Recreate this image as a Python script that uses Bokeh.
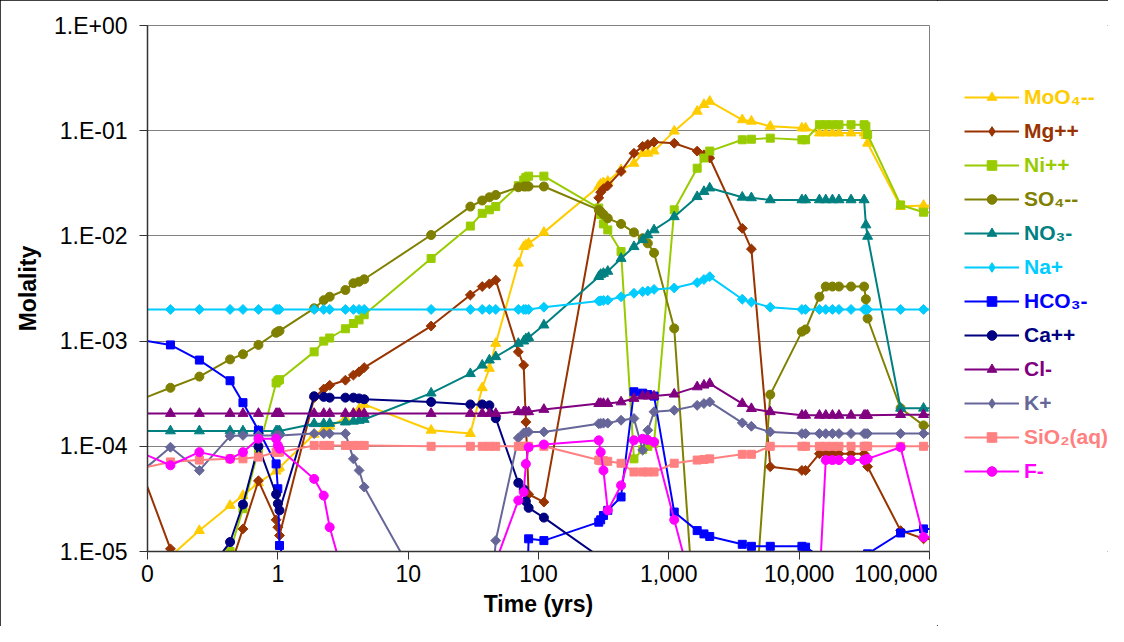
from bokeh.plotting import figure
from bokeh.models import Range1d, FixedTicker, Legend, LegendItem, ColumnDataSource
from bokeh.layouts import row
from bokeh.embed import file_html
from bokeh.resources import INLINE
import math

# ---------------- data ----------------
TIME = [0.08, 0.15, 0.25, 0.43, 0.54, 0.71, 0.97, 1.0, 1.03,
        1.9, 2.25, 2.5, 3.3, 3.8, 4.2, 4.6,
        15, 30, 37, 42, 47, 70, 77, 80, 84, 110,
        290, 300, 315, 340, 430, 540, 630, 690, 770, 1100,
        1650, 1860, 2060, 3660, 4300, 6000,
        10500, 11200, 14300, 16000, 18000, 20200, 25000, 31500, 32500, 33500,
        60000, 90000, 120000]

MOO4 = [4e-6, 9e-6, 1.58e-5, 2.74e-5, 3.4e-5, 4.5e-5, 5.8e-5, 6.1e-5, 6.3e-5,
        1.3e-4, 1.45e-4, 1.55e-4, 1.85e-4, 2.05e-4, 2.25e-4, 2.5e-4,
        1.42e-4, 1.32e-4, 3.6e-4, 5.5e-4, 9.5e-4, 5.5e-3, 7.9e-3, 8.2e-3, 8.5e-3, 1.08e-2,
        2.95e-2, 3.1e-2, 3.2e-2, 3.3e-2, 4.25e-2, 4.9e-2, 6.1e-2, 6.1e-2, 6.4e-2, 9.9e-2,
        0.153, 0.177, 0.19, 0.127, 0.123, 0.11,
        0.106, 0.106, 0.095, 0.095, 0.095, 0.095, 0.095, 0.095, 0.09, 0.076,
        0.019, 0.0195, 0.019]

MG = [8.6e-5, 1.06e-5, 5e-6, 7e-6, 1.64e-5, 4.7e-5, 2.0e-5, 1.7e-5, 1.42e-5,
      2.9e-4, 3.5e-4, 3.8e-4, 4.25e-4, 4.75e-4, 5.1e-4, 5.6e-4,
      1.39e-3, 2.74e-3, 3.3e-3, 3.5e-3, 3.8e-3, 7.9e-4, 5.9e-4, 1.7e-4, 3.5e-5, 2.95e-5,
      2.3e-2, 2.6e-2, 2.8e-2, 3.0e-2, 4.1e-2, 6.1e-2, 7.1e-2, 7.4e-2, 7.8e-2, 7.6e-2,
      6.4e-2, 5.9e-2, 5.5e-2, 1.18e-2, 7.5e-3, 6.4e-5,
      5.9e-5, 5.9e-5, 8.5e-5, 8.5e-5, 8.5e-5, 8.5e-5, 8.5e-5, 8.5e-5, 7.5e-5, 6.4e-5,
      1.58e-5, 1.32e-5, 1.3e-5]

NI = [1e-6, 2e-6, 5e-6, 1.0e-5, 2.55e-5, 9.2e-5, 4.0e-4, 4.2e-4, 4.3e-4,
      7.9e-4, 1.0e-3, 1.07e-3, 1.31e-3, 1.47e-3, 1.59e-3, 1.78e-3,
      6.1e-3, 1.24e-2, 1.64e-2, 1.77e-2, 1.9e-2, 3.0e-2, 3.4e-2, 3.6e-2, 3.7e-2, 3.7e-2,
      1.84e-2, 1.6e-2, 1.3e-2, 1.14e-2, 7.1e-3, 7.6e-5, 9.3e-5, 1.0e-4, 1.07e-4, 1.77e-2,
      4.4e-2, 5.5e-2, 6.4e-2, 8.2e-2, 8.3e-2, 8.5e-2,
      8.2e-2, 8.2e-2, 0.114, 0.114, 0.114, 0.114, 0.114, 0.114, 0.11, 0.092,
      0.0197, 0.0168, 0.0165]

SO4 = [2.65e-4, 3.6e-4, 4.6e-4, 6.7e-4, 7.5e-4, 9.2e-4, 1.2e-3, 1.23e-3, 1.25e-3,
       2.05e-3, 2.45e-3, 2.64e-3, 3.06e-3, 3.55e-3, 3.67e-3, 3.87e-3,
       1.02e-2, 1.9e-2, 2.17e-2, 2.33e-2, 2.45e-2, 2.9e-2, 2.95e-2, 2.95e-2, 2.95e-2, 2.95e-2,
       1.77e-2, 1.7e-2, 1.6e-2, 1.47e-2, 1.3e-2, 1.08e-2, 9.5e-3, 8.5e-3, 6.9e-3, 1.32e-3,
       1e-6, 1e-6, 1e-6, 1e-6, 1e-6, 3.1e-4,
       1.23e-3, 1.29e-3, 2.64e-3, 3.3e-3, 3.3e-3, 3.3e-3, 3.3e-3, 3.3e-3, 2.5e-3, 1.64e-3,
       2.3e-4, 1.58e-4, 1.55e-4]

NO3 = [1.4e-4, 1.4e-4, 1.4e-4, 1.4e-4, 1.4e-4, 1.4e-4, 1.4e-4, 1.4e-4, 1.4e-4,
       1.64e-4, 1.64e-4, 1.65e-4, 1.7e-4, 1.73e-4, 1.76e-4, 1.8e-4,
       3.2e-4, 4.9e-4, 5.9e-4, 6.6e-4, 7.1e-4, 9.5e-4, 1.0e-3, 1.05e-3, 1.08e-3, 1.42e-3,
       4.1e-3, 4.3e-3, 4.4e-3, 4.6e-3, 6.1e-3, 7.9e-3, 9.2e-3, 1.02e-2, 1.14e-2, 1.52e-2,
       2.36e-2, 2.64e-2, 2.85e-2, 2.33e-2, 2.3e-2, 2.2e-2,
       2.2e-2, 2.2e-2, 2.2e-2, 2.2e-2, 2.2e-2, 2.2e-2, 2.2e-2, 2.2e-2, 1.27e-2, 9.9e-3,
       2.3e-4, 2.3e-4, 2.3e-4]

NA = [2e-3, 2e-3, 2e-3, 2e-3, 2e-3, 2e-3, 2e-3, 2e-3, 2e-3,
      2e-3, 2e-3, 2e-3, 2e-3, 2e-3, 2e-3, 2e-3,
      2e-3, 2e-3, 2e-3, 2e-3, 2e-3, 2e-3, 2e-3, 2e-3, 2e-3, 2.1e-3,
      2.4e-3, 2.42e-3, 2.44e-3, 2.45e-3, 2.64e-3, 2.85e-3, 2.95e-3, 3.0e-3, 3.1e-3, 3.2e-3,
      3.6e-3, 3.85e-3, 4.1e-3, 2.5e-3, 2.35e-3, 2.1e-3,
      2e-3, 2e-3, 2e-3, 2e-3, 2e-3, 2e-3, 2e-3, 2e-3, 2e-3, 2e-3,
      2e-3, 2e-3, 2e-3]

HCO3 = [1.05e-3, 9.2e-4, 6.6e-4, 4.2e-4, 2.6e-4, 1.42e-4, 6.8e-5, 3.95e-5, 1.14e-5,
        1e-6, 1e-6, 1e-6, 1e-6, 1e-6, 1e-6, 1e-6,
        1e-6, 1e-6, 1e-6, 1e-6, 1e-6, 1e-6, 1e-6, 2e-6, 1.32e-5, 1.27e-5,
        1.9e-5, 2.0e-5, 2.2e-5, 2.46e-5, 3.3e-5, 3.3e-4, 3.2e-4, 3.1e-4, 3.0e-4, 2.37e-5,
        1.58e-5, 1.47e-5, 1.39e-5, 1.17e-5, 1.12e-5, 1.12e-5,
        1.12e-5, 1.1e-5, 9e-6, 9e-6, 9e-6, 9e-6, 9e-6, 9e-6, 9e-6, 9.5e-6,
        1.5e-5, 1.64e-5, 1.64e-5]

CA = [1e-6, 1e-6, 5e-6, 1.23e-5, 2.8e-5, 1.0e-4, 3.5e-5, 2.85e-5, 2.46e-5,
      2.99e-4, 2.95e-4, 2.9e-4, 2.9e-4, 2.9e-4, 2.85e-4, 2.8e-4,
      2.64e-4, 2.5e-4, 2.5e-4, 2.45e-4, 1.85e-4, 4.5e-5, 3.9e-5, 3.0e-5, 2.6e-5, 2.1e-5,
      9e-6, 8.5e-6, 8e-6, 7e-6, 4e-6, 1e-6, 1e-6, 1e-6, 1e-6, 1e-6,
      1e-6, 1e-6, 1e-6, 1e-6, 1e-6, 1e-6,
      1e-6, 1e-6, 1e-6, 1e-6, 1e-6, 1e-6, 1e-6, 1e-6, 1e-6, 1e-6,
      1e-6, 1e-6, 1e-6]

CL = [2.05e-4, 2.05e-4, 2.05e-4, 2.05e-4, 2.05e-4, 2.05e-4, 2.05e-4, 2.05e-4, 2.05e-4,
      2.05e-4, 2.05e-4, 2.05e-4, 2.05e-4, 2.05e-4, 2.05e-4, 2.05e-4,
      2.05e-4, 2.05e-4, 2.05e-4, 2.05e-4, 2.05e-4, 2.13e-4, 2.13e-4, 2.13e-4, 2.13e-4, 2.24e-4,
      2.55e-4, 2.55e-4, 2.55e-4, 2.55e-4, 2.64e-4, 2.85e-4, 3.0e-4, 3.0e-4, 3.0e-4, 3.13e-4,
      3.67e-4, 3.81e-4, 3.95e-4, 2.55e-4, 2.28e-4, 2.13e-4,
      1.97e-4, 1.97e-4, 1.97e-4, 1.97e-4, 1.97e-4, 1.97e-4, 1.97e-4, 1.97e-4, 1.97e-4, 1.97e-4,
      2.0e-4, 2.0e-4, 2.0e-4]

K = [5.1e-5, 9.8e-5, 5.9e-5, 1.25e-4, 1.27e-4, 1.27e-4, 1.27e-4, 1.27e-4, 1.27e-4,
     1.32e-4, 1.32e-4, 1.32e-4, 1.32e-4, 7.6e-5, 5.9e-5, 4.1e-5,
     3e-6, 1e-6, 1e-6, 2e-6, 1.27e-5, 1.2e-4, 1.34e-4, 1.36e-4, 1.37e-4, 1.37e-4,
     1.64e-4, 1.65e-4, 1.66e-4, 1.66e-4, 1.77e-4, 1.84e-4, 9.2e-5, 1.42e-4, 2.13e-4, 2.2e-4,
     2.45e-4, 2.55e-4, 2.64e-4, 1.67e-4, 1.55e-4, 1.37e-4,
     1.32e-4, 1.32e-4, 1.32e-4, 1.32e-4, 1.32e-4, 1.32e-4, 1.32e-4, 1.32e-4, 1.32e-4, 1.32e-4,
     1.32e-4, 1.32e-4, 1.32e-4]

SIO2 = [6.0e-5, 7.1e-5, 7.4e-5, 7.6e-5, 7.6e-5, 7.9e-5, 8.8e-5, 8.8e-5, 8.8e-5,
        1.02e-4, 1.02e-4, 1.02e-4, 1.02e-4, 1.02e-4, 1.02e-4, 1.02e-4,
        1.0e-4, 1.0e-4, 1.0e-4, 1.0e-4, 1.0e-4, 1.0e-4, 1.0e-4, 1.0e-4, 1.0e-4, 1.0e-4,
        7.4e-5, 7.3e-5, 7.3e-5, 7.2e-5, 6.9e-5, 5.7e-5, 5.7e-5, 5.7e-5, 5.7e-5, 6.9e-5,
        7.4e-5, 7.5e-5, 7.6e-5, 8.4e-5, 8.4e-5, 1.0e-4,
        1.0e-4, 1.0e-4, 1.0e-4, 1.0e-4, 1.0e-4, 1.0e-4, 1.0e-4, 1.0e-4, 1.0e-4, 1.0e-4,
        1.0e-4, 1.0e-4, 1.0e-4]

F = [9.2e-5, 6.6e-5, 8.8e-5, 7.6e-5, 8.8e-5, 1.18e-4, 1.18e-4, 1.02e-4, 9.5e-5,
     4.9e-5, 3.4e-5, 1.7e-5, 5e-6, 1e-6, 1e-6, 1e-6,
     1e-6, 1e-6, 1e-6, 1e-6, 8e-6, 3.06e-5, 3.67e-5, 6.8e-5, 9.8e-5, 1.04e-4,
     1.14e-4, 8.8e-5, 5.9e-5, 2.46e-5, 4.25e-5, 1.14e-4, 1.18e-4, 1.15e-4, 1.1e-4, 2.0e-5,
     3e-6, 1e-6, 1e-6, 1e-6, 1e-6, 1e-6,
     1e-6, 1e-6, 5e-6, 7.4e-5, 7.4e-5, 7.4e-5, 7.4e-5, 7.4e-5, 7.5e-5, 7.6e-5,
     9.8e-5, 1.37e-5, 1.37e-5]

LABELS = ["MoO\u2084--", "Mg++", "Ni++", "SO\u2084--", "NO\u2083-", "Na+",
          "HCO\u2083-", "Ca++", "Cl-", "K+", "SiO\u2082(aq)", "F-"]
SERIES = [MOO4, MG, NI, SO4, NO3, NA, HCO3, CA, CL, K, SIO2, F]
COLORS = ["#FFCC00", "#993300", "#99CC00", "#808000", "#008080", "#00CCFF",
          "#0000FF", "#000080", "#800080", "#666699", "#FF8080", "#FF00FF"]
MARKERS = ["triangle", "diamond", "square", "circle", "triangle", "diamond",
           "square", "circle", "triangle", "diamond", "square", "circle"]

X_TICKS = [0.1, 1, 10, 100, 1000, 10000, 100000]
X_LABELS = ["0", "1", "10", "100", "1,000", "10,000", "100,000"]
Y_TICKS = [1e-5, 1e-4, 1e-3, 1e-2, 1e-1, 1]
Y_LABELS = ["1.E-05", "1.E-04", "1.E-03", "1.E-02", "1.E-01", "1.E+00"]

FONT = "Liberation Sans"
TOTAL_W, TOTAL_H = 1108, 626
FRAME_L, FRAME_T, FRAME_R, FRAME_B = 147, 25, 929, 551
MAIN_W = 937

p = figure(width=MAIN_W, height=TOTAL_H, x_axis_type="log", y_axis_type="log",
           x_range=Range1d(0.1, 1e5), y_range=Range1d(1e-5, 1),
           output_backend="svg", toolbar_location=None,
           min_border_left=FRAME_L, min_border_right=MAIN_W - FRAME_R,
           min_border_top=FRAME_T, min_border_bottom=TOTAL_H - FRAME_B)

p.background_fill_color = "white"
p.border_fill_color = "white"
p.outline_line_color = "#808080"
p.outline_line_width = 1

p.xgrid.visible = False
p.ygrid.ticker = FixedTicker(ticks=Y_TICKS)
p.ygrid.grid_line_color = "#808080"
p.ygrid.grid_line_width = 1

for ax, ticks, labels in ((p.xaxis[0], X_TICKS, X_LABELS), (p.yaxis[0], Y_TICKS, Y_LABELS)):
    ax.ticker = FixedTicker(ticks=ticks)
    ax.major_label_overrides = {t: l for t, l in zip(ticks, labels)}
    ax.major_label_text_font = FONT
    ax.major_label_text_font_size = "23px"
    ax.major_label_text_color = "black"
    ax.axis_label_text_font = FONT
    ax.axis_label_text_font_size = "23px"
    ax.axis_label_text_font_style = "bold"
    ax.axis_label_text_color = "black"
    ax.axis_line_color = "#333333"
    ax.axis_line_width = 1.5
    ax.major_tick_line_color = "#333333"
    ax.major_tick_out = 8
    ax.major_tick_in = 0
    ax.minor_tick_out = 0
    ax.minor_tick_in = 0

p.xaxis.axis_label = "Time (yrs)"
p.yaxis.axis_label = "Molality"
p.xaxis.major_label_standoff = 5
p.xaxis.axis_label_standoff = 6
p.yaxis.major_label_standoff = 12
p.yaxis.axis_label_standoff = 10

# legend panel: a second, axis-less figure to the right of the plot
q = figure(width=TOTAL_W - MAIN_W, height=TOTAL_H, output_backend="svg",
           toolbar_location=None, x_axis_location=None, y_axis_location=None,
           min_border=0, x_range=Range1d(0, 1), y_range=Range1d(0, 1))
q.grid.visible = False
q.outline_line_color = None
q.background_fill_color = "white"
q.border_fill_color = "white"

legend_parts = []
for lab, vals, col, mk in zip(LABELS, SERIES, COLORS, MARKERS):
    src = ColumnDataSource(dict(t=TIME, v=vals))
    p.line("t", "v", source=src, line_color=col, line_width=2)
    if mk == "diamond":
        p.scatter("t", "v", source=src, marker="square", size=7, angle=math.pi / 4,
                  fill_color=col, line_color=col)
    else:
        size = {"triangle": 10, "square": 8, "circle": 9}[mk]
        p.scatter("t", "v", source=src, marker=mk, size=size,
                  fill_color=col, line_color=col)
    # legend sample glyphs for the legend panel (placed outside its visible range)
    ln = q.line([-5, -4], [-5, -4], line_color=col, line_width=2)
    sc = q.scatter([-5], [-5], marker=mk, fill_color=col, line_color=col)
    legend_parts.append((lab, col, ln, sc))

# one legend per entry so that each label keeps its series colour
ROW0 = 97.3          # centre of first entry (canvas px from top)
STEP = 33.97
LEG_X = 964          # canvas x where the sample line starts
H = 24
for i, (lab, col, ln, sc) in enumerate(legend_parts):
    cy = ROW0 + STEP * i
    vy = FRAME_B - (cy + H / 2)
    leg = Legend(items=[LegendItem(label=lab, renderers=[ln, sc])],
                 location=(LEG_X - MAIN_W, vy), orientation="vertical",
                 padding=0, margin=0, spacing=0,
                 glyph_width=55, glyph_height=H, label_height=H,
                 label_standoff=5,
                 label_text_font=FONT, label_text_font_size="21px",
                 label_text_font_style="bold", label_text_color=col,
                 border_line_color=None, background_fill_alpha=0)
    q.add_layout(leg, "center")

layout = row(p, q, spacing=0)
layout.styles = {"outline": "1px solid black", "outline-offset": "-1px"}

open("out.html", "w").write(file_html(layout, INLINE))
